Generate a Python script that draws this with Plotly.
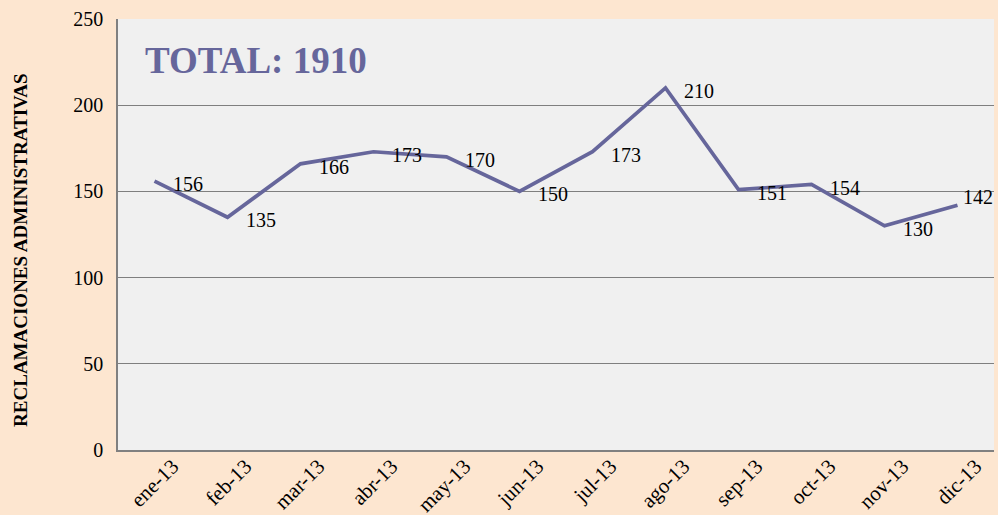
import plotly.graph_objects as go

months = ["ene-13", "feb-13", "mar-13", "abr-13", "may-13", "jun-13",
          "jul-13", "ago-13", "sep-13", "oct-13", "nov-13", "dic-13"]
values = [156, 135, 166, 173, 170, 150, 173, 210, 151, 154, 130, 142]
y_ticks = [0, 50, 100, 150, 200, 250]
title_text = "TOTAL: 1910"
y_title = "RECLAMACIONES ADMINISTRATIVAS"

FONT = "Liberation Serif"
LINE = "#66669B"

fig = go.Figure()
fig.add_trace(go.Scatter(
    x=months, y=values,
    mode="lines",
    line=dict(color=LINE, width=3.7),
    hoverinfo="x+y",
))

annotations = []
for i, (m, v) in enumerate(zip(months, values)):
    last = i == len(months) - 1
    annotations.append(dict(
        x=m, y=v, xref="x", yref="y", text=str(v), showarrow=False,
        xanchor="left", yanchor="middle",
        xshift=3 if last else 16, yshift=8 if last else -3,
        font=dict(family=FONT, size=20, color="#000000"),
    ))

annotations += [
    dict(text=title_text, xref="paper", yref="paper",
         x=0.028, y=0.903, xanchor="left", yanchor="middle",
         showarrow=False,
         font=dict(family=FONT, size=37, color="#66669B", weight="bold")),
    dict(text=y_title, xref="paper", yref="paper",
         x=-0.112, y=0.464, xanchor="center", yanchor="middle",
         textangle=-90, showarrow=False,
         font=dict(family=FONT, size=19, color="#000000", weight="bold")),
]

fig.update_layout(
    width=998, height=515,
    margin=dict(l=118, r=4, t=19, b=65),
    paper_bgcolor="#FDE6D0",
    plot_bgcolor="#F0F0F0",
    showlegend=False,
    font=dict(family=FONT, size=20, color="#000000"),
    xaxis=dict(
        type="category",
        tickangle=-45,
        tickfont=dict(family=FONT, size=21),
        showgrid=False,
        showline=True, linecolor="#808080", linewidth=1.5,
        ticks="",
        range=[-0.5, 11.5],
        automargin=False,
        ticklabelshift=18,
        ticklabelstandoff=-6,
    ),
    yaxis=dict(
        range=[0, 250],
        tickvals=y_ticks,
        tickfont=dict(family=FONT, size=20),
        showgrid=True, gridcolor="#7F7F7F", gridwidth=1,
        showline=True, linecolor="#808080", linewidth=1.5,
        zeroline=False,
        ticks="",
        ticklabelstandoff=9,
        automargin=False,
    ),
    annotations=annotations,
)

fig.write_html("out.html", config={"displayModeBar": False},
               post_script="document.body.style.margin='0';")
